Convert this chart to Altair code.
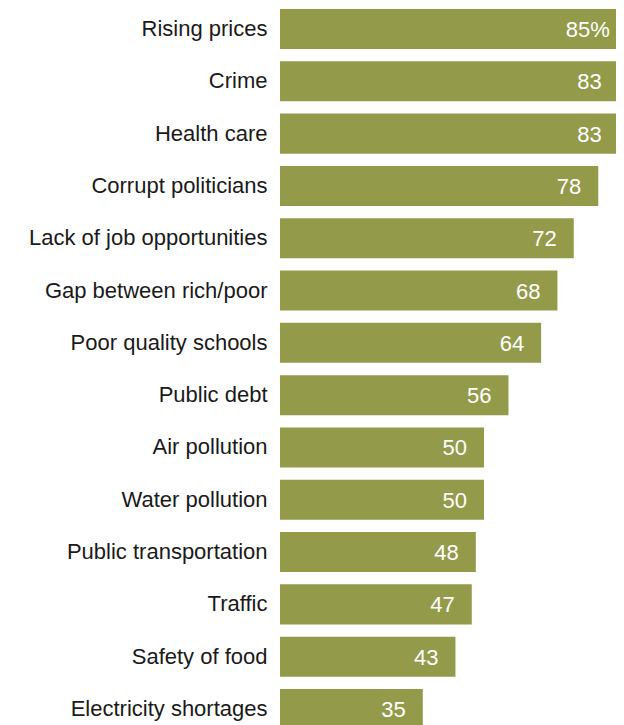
import altair as alt
import pandas as pd

categories = ["Rising prices", "Crime", "Health care", "Corrupt politicians",
              "Lack of job opportunities", "Gap between rich/poor",
              "Poor quality schools", "Public debt", "Air pollution",
              "Water pollution", "Public transportation", "Traffic",
              "Safety of food", "Electricity shortages"]
values = [85, 83, 83, 78, 72, 68, 64, 56, 50, 50, 48, 47, 43, 35]
labels = ["85%"] + [str(v) for v in values[1:]]

df = pd.DataFrame({"cat": categories, "val": values, "lab": labels})

y = alt.Y("cat:N", sort=categories, title=None,
          scale=alt.Scale(range=[0, 720], paddingInner=0.235, paddingOuter=0),
          axis=alt.Axis(domain=False, ticks=False, labelPadding=13,
                        labelFontSize=22, labelFont="Liberation Sans",
                        labelColor="#1a1a1a", labelLimit=300))
xs = alt.Scale(domain=[0, 82.35], nice=False)
x = alt.X("val:Q", title=None, scale=xs, axis=None)

bars = alt.Chart(df).mark_bar(color="#939b4b", clip=True).encode(x=x, y=y)
text = alt.Chart(df).mark_text(align="right", dx=-17, dy=1, color="white",
                               fontSize=22, font="Liberation Sans",
                               baseline="middle", clip=True).encode(
    x=x, y=y, text="lab:N")

chart = (bars + text).properties(
    width=336, height=716,
    autosize=alt.AutoSizeParams(type="none"),
    padding={"left": 272, "top": 1, "right": 0, "bottom": 0},
).configure_view(stroke=None)

chart.save("out.html", embed_options={"renderer": "svg", "actions": False})
